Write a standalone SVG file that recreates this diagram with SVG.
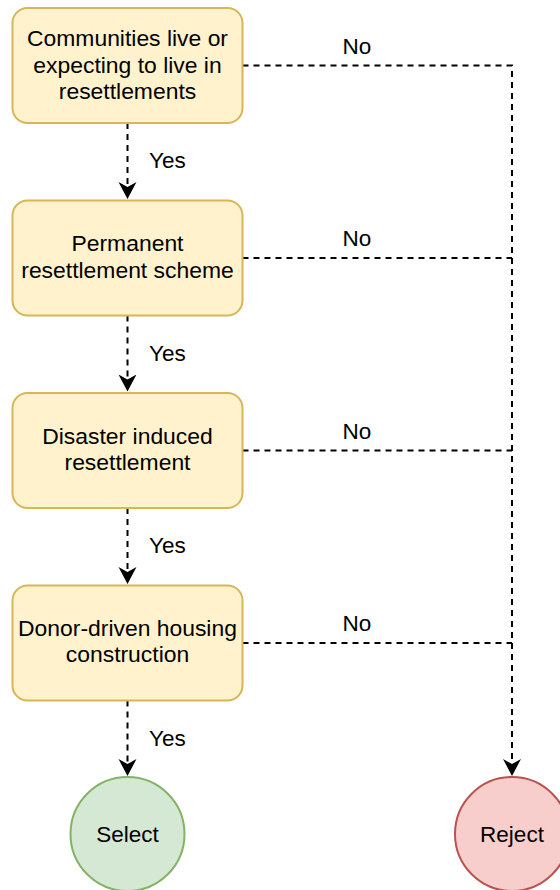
<svg xmlns="http://www.w3.org/2000/svg" width="560" height="890" viewBox="0 0 560 890">
<style>
.box{fill:#fff2cc;stroke:#d6b656;stroke-width:2}
.sel{fill:#d5e8d4;stroke:#82b366;stroke-width:2}
.rej{fill:#f8cecc;stroke:#b85450;stroke-width:2}
text{font-family:"Liberation Sans",Arial,Helvetica,sans-serif;font-size:22.5px;fill:#000}
.c{text-anchor:middle}
.n{font-size:22.9px}
.edge{fill:none;stroke:#000;stroke-width:2;stroke-dasharray:6 5}
</style>
<defs>
<marker id="arr" markerUnits="userSpaceOnUse" markerWidth="20" markerHeight="20" refX="5" refY="9" orient="auto">
<path d="M0,0 L17,9 L0,18 L5,9 Z" fill="#000"/>
</marker>
</defs>
<rect width="560" height="890" fill="#fff"/>
<g id="connectors">
<path class="edge" d="M127.5,123 V187" marker-end="url(#arr)"/>
<path class="edge" d="M127.5,315.5 V379.5" marker-end="url(#arr)"/>
<path class="edge" d="M127.5,508 V572" marker-end="url(#arr)"/>
<path class="edge" d="M127.5,700.5 V764" marker-end="url(#arr)"/>
<path class="edge" d="M242.5,65.5 H512 V764" marker-end="url(#arr)"/>
<path class="edge" d="M242.5,258 H512"/>
<path class="edge" d="M242.5,450.5 H512"/>
<path class="edge" d="M242.5,643 H512"/>
<text x="149" y="168">Yes</text>
<text x="149" y="360.5">Yes</text>
<text x="149" y="553">Yes</text>
<text x="149" y="745.5">Yes</text>
<text class="c" x="357" y="53.5">No</text>
<text class="c" x="357" y="246">No</text>
<text class="c" x="357" y="438.5">No</text>
<text class="c" x="357" y="631">No</text>
</g>
<g id="n1">
<rect class="box" x="12.5" y="8" width="230" height="115" rx="15"/>
<text class="c n" x="127.5" y="46.3">Communities live or</text>
<text class="c n" x="127.5" y="72.7">expecting to live in</text>
<text class="c n" x="127.5" y="99">resettlements</text>
</g>
<g id="n2">
<rect class="box" x="12.5" y="200.5" width="230" height="115" rx="15"/>
<text class="c n" x="127.5" y="251.3">Permanent</text>
<text class="c n" x="127.5" y="277.6">resettlement scheme</text>
</g>
<g id="n3">
<rect class="box" x="12.5" y="393" width="230" height="115" rx="15"/>
<text class="c n" x="127.5" y="443.8">Disaster induced</text>
<text class="c n" x="127.5" y="470.1">resettlement</text>
</g>
<g id="n4">
<rect class="box" x="12.5" y="585.5" width="230" height="115" rx="15"/>
<text class="c n" x="127.5" y="635.8">Donor-driven housing</text>
<text class="c n" x="127.5" y="662.1">construction</text>
</g>
<g id="select">
<circle class="sel" cx="127.5" cy="834" r="57"/>
<text class="c" x="127.5" y="841.8">Select</text>
</g>
<g id="reject">
<circle class="rej" cx="512" cy="834" r="57"/>
<text class="c" x="512" y="841.8">Reject</text>
</g>
</svg>
